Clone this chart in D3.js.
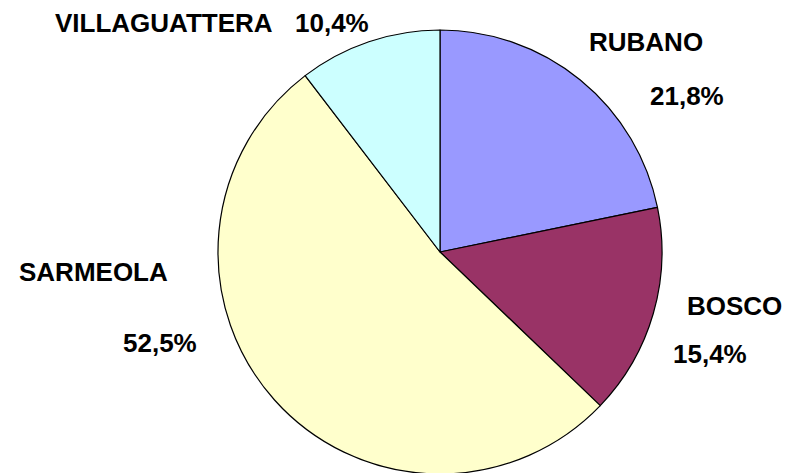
<!DOCTYPE html>
<html>
<head>
<meta charset="utf-8">
<script src="https://cdn.jsdelivr.net/npm/d3@7"></script>
<style>
  html, body { margin: 0; padding: 0; background: #fff; }
  text { font-family: "Liberation Sans", Arial, sans-serif; font-weight: bold; fill: #000; }
</style>
</head>
<body>
<div id="chart"></div>
<script>
// data
const categories = ["RUBANO", "BOSCO", "SARMEOLA", "VILLAGUATTERA"];
const values = [21.8, 15.4, 52.5, 10.4];
const colours = ["#9999FF", "#993366", "#FFFFCC", "#CCFFFF"];

// label placement (Excel labels were dragged by hand)
const nameAt = [[589, 51], [687, 315], [19, 281], [55, 32]];
const pctAt = [[650, 105], [673, 363], [123, 352], [295, 32]];

const fullWidth = 788;
const fullHeight = 473;
const cx = 440, cy = 252, radius = 222;

const svg = d3.select("#chart").append("svg")
    .attr("width", fullWidth)
    .attr("height", fullHeight);

const itFormat = d3.formatLocale({ decimal: ",", thousands: ".", grouping: [3], currency: ["", "€"] });
const pct = itFormat.format(".1f");

const slices = categories.map((c, i) => ({ name: c, value: values[i], colour: colours[i] }));

const pie = d3.pie().sort(null).value(d => d.value);
const arc = d3.arc().innerRadius(0).outerRadius(radius);

const g = svg.append("g").attr("transform", `translate(${cx},${cy})`);

g.selectAll("path")
    .data(pie(slices))
    .join("path")
    .attr("d", arc)
    .attr("fill", d => d.data.colour)
    .attr("stroke", "#000")
    .attr("stroke-width", 1.2)
    .attr("stroke-linejoin", "round");

svg.selectAll("text.name")
    .data(slices)
    .join("text")
    .attr("class", "name")
    .attr("x", (d, i) => nameAt[i][0])
    .attr("y", (d, i) => nameAt[i][1])
    .style("font-size", "26px")
    .text(d => d.name);

svg.selectAll("text.pct")
    .data(slices)
    .join("text")
    .attr("class", "pct")
    .attr("x", (d, i) => pctAt[i][0])
    .attr("y", (d, i) => pctAt[i][1])
    .style("font-size", "26px")
    .text(d => pct(d.value) + "%");
</script>
</body>
</html>
